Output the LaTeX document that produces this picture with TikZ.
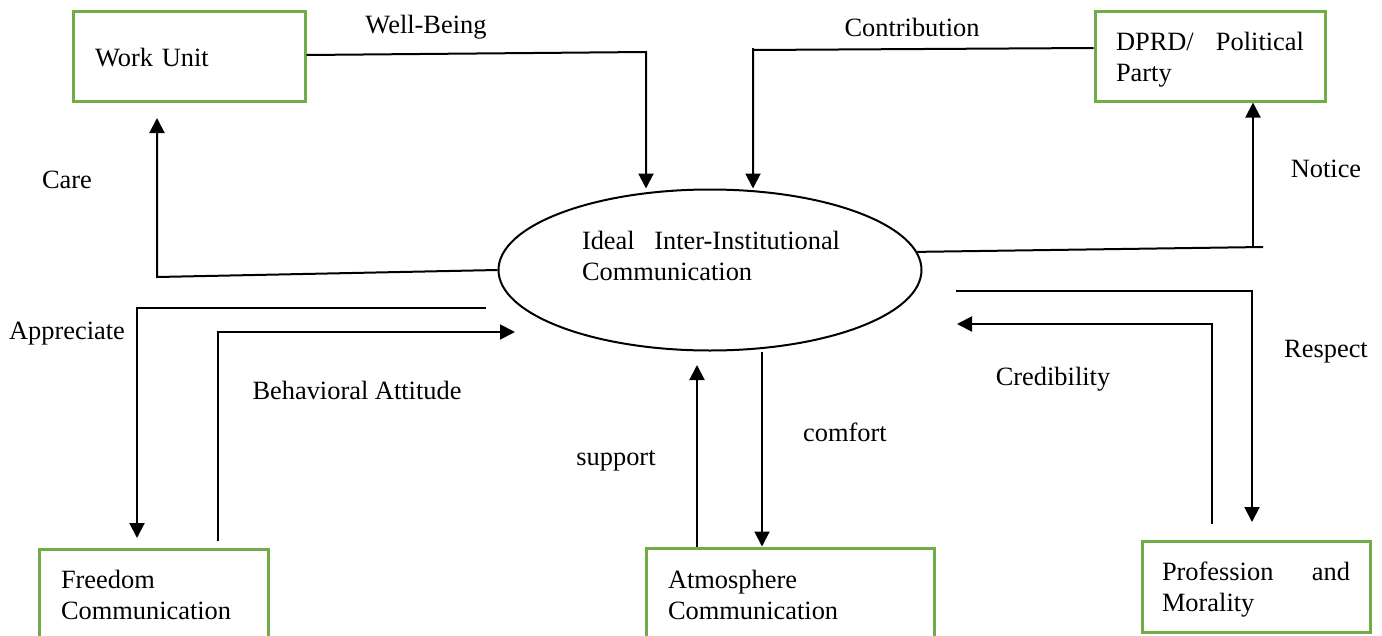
\documentclass[tikz,border=0pt]{standalone}
\usepackage{fontspec}
\setmainfont{Liberation Serif}
\usetikzlibrary{arrows.meta,shapes.geometric}
\definecolor{boxgreen}{RGB}{112,173,71}
\begin{document}
\begin{tikzpicture}[x=1pt,y=-1pt,
  every node/.style={font=\fontsize{26.4}{31}\selectfont},
  unitbox/.style={draw=boxgreen,line width=3pt,fill=white,inner sep=0pt},
  boxtext/.style={inner sep=0pt,align=left},
  link/.style={draw=black,line width=2pt},
  flow/.style={link,-{Triangle[length=15pt,width=15pt]}},
  tag/.style={inner sep=0pt,anchor=center}]
\clip (0,0) rectangle (1382,635);

% central ellipse
\node[ellipse,draw,line width=2pt,minimum width=423pt,minimum height=161pt,inner sep=0pt] (core) at (710,270) {};
\node[boxtext,text width=258pt] (coretext) at (711,256)
  {Ideal\hfill Inter-Institutional\\Communication};

% surrounding units
\node[unitbox,minimum width=232pt,minimum height=90pt] (wu) at (189,56) {};
\node[unitbox,minimum width=230pt,minimum height=90pt] (dprd) at (1210,56) {};
\node[unitbox,minimum width=229pt,minimum height=102pt] (free) at (153.5,600) {};
\node[unitbox,minimum width=288pt,minimum height=104pt] (atmo) at (790,600) {};
\node[unitbox,minimum width=228pt,minimum height=91pt] (prof) at (1256,586.5) {};

% unit captions
\node[boxtext,text width=188pt] (wuText) at (189,58) {Work Unit};
\node[boxtext,text width=188pt] (dprdText) at (1210,60) {DPRD/\hfill Political\\Party};
\node[boxtext,text width=185pt] (freeText) at (153.5,595) {Freedom\\Communication};
\node[boxtext,text width=244pt] (atmoText) at (790,595) {Atmosphere\\Communication};
\node[boxtext,text width=188pt] (profText) at (1256,589.5) {Profession\hfill and\\Morality};

% free ends of connectors
\coordinate (careTip) at (157,118);
\coordinate (apprStart) at (486,308);
\coordinate (apprTip) at (137,538);
\coordinate (behStart) at (218,541);
\coordinate (behTip) at (515,332);
\coordinate (suppTip) at (697,365);
\coordinate (respStart) at (956,291);
\coordinate (respTip) at (1252,522);
\coordinate (credStart) at (1212,524);
\coordinate (credTip) at (957,324);
\coordinate (noticeEnd) at (1263,247);

% connectors
\draw[flow] ([yshift=1pt]wu.east) -- (646,52) -- (646,52 |- core.north);
\draw[flow] ([yshift=8pt]dprd.west) -- (753,50) -- (753,50 |- core.north);
\draw[link] (753,48) -- (753,52);
\draw[link] (core.5) -- (noticeEnd);
\draw[flow] (1253,248) -- (1253,0 |- dprd.south);
\draw[flow] (core.west) -- (157,277) -- (careTip);
\draw[flow] (apprStart) -- (137,308) -- (apprTip);
\draw[flow] (behStart) -- (218,332) -- (behTip);
\draw[flow] (697,0 |- atmo.north) -- (suppTip);
\draw[flow] (762,0 |- core.south) -- (762,0 |- atmo.north);
\draw[flow] (respStart) -- (1252,291) -- (respTip);
\draw[flow] (credStart) -- (1212,324) -- (credTip);

% connector labels
\node[tag] (lWell) at (426,27) {Well-Being};
\node[tag] (lContr) at (912,27) {Contribution};
\node[tag] (lCare) at (67,180) {Care};
\node[tag] (lNotice) at (1326,169) {Notice};
\node[tag] (lAppr) at (67,334) {Appreciate};
\node[tag] (lBeh) at (357,390) {Behavioral Attitude};
\node[tag] (lSupp) at (616,461) {support};
\node[tag] (lComf) at (845,432) {comfort};
\node[tag] (lCred) at (1053,379) {Credibility};
\node[tag] (lResp) at (1326,352) {Respect};
\end{tikzpicture}
\end{document}
